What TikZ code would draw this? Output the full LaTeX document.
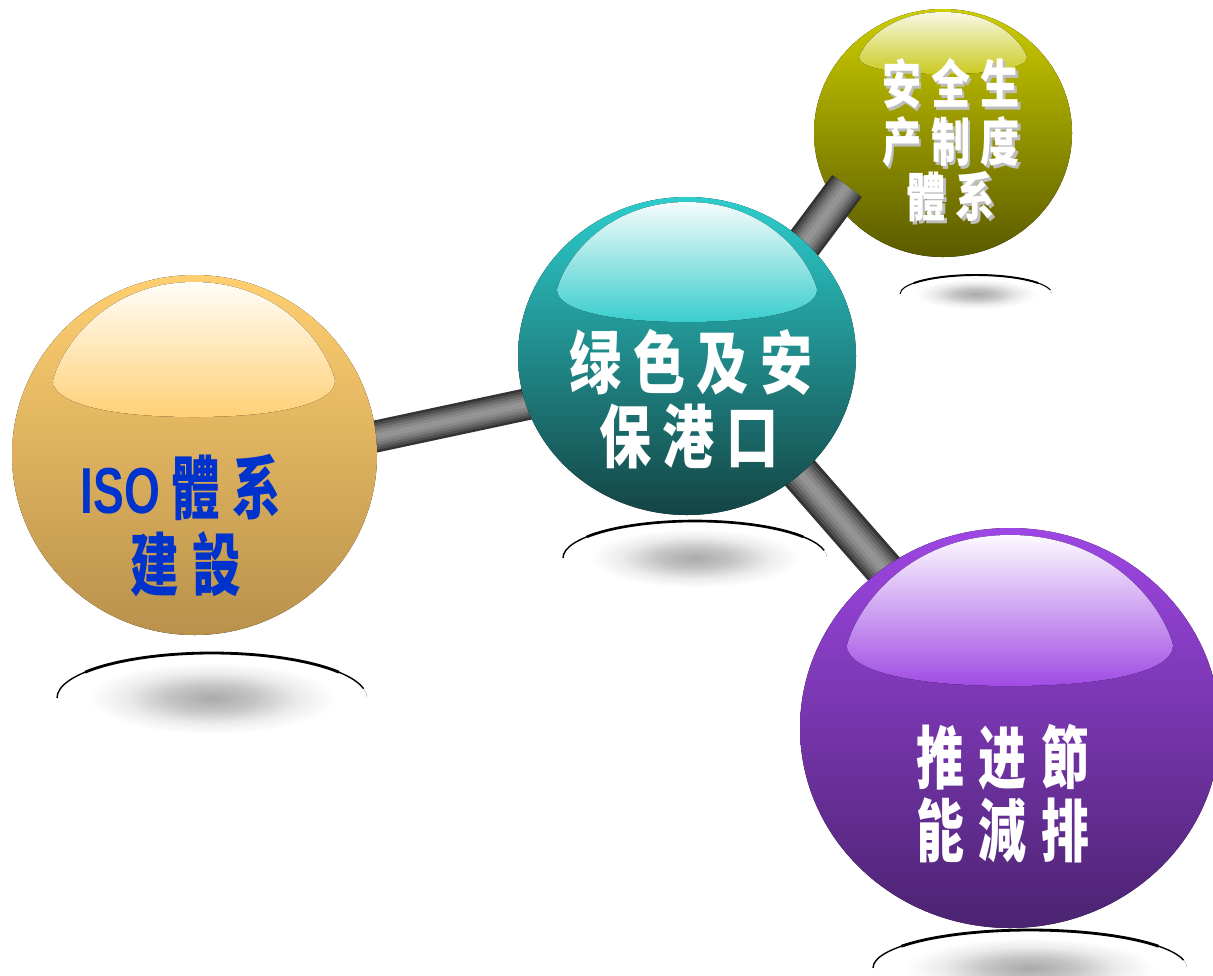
\documentclass[tikz,border=0pt]{standalone}
\usepackage{fontspec}
\newfontfamily\cjk{Noto Sans CJK SC}
\newfontfamily\lat{Liberation Sans}
\definecolor{orTop}{RGB}{255,207,112}
\definecolor{orBot}{RGB}{185,145,75}
\definecolor{orHiT}{RGB}{255,253,248}
\definecolor{orHiB}{RGB}{255,208,118}
\definecolor{teTop}{RGB}{45,205,205}
\definecolor{teBot}{RGB}{20,68,68}
\definecolor{teHiT}{RGB}{245,252,252}
\definecolor{teHiB}{RGB}{58,205,205}
\definecolor{olTop}{RGB}{205,205,0}
\definecolor{olBot}{RGB}{90,90,0}
\definecolor{olHiT}{RGB}{248,248,230}
\definecolor{olHiB}{RGB}{202,202,30}
\definecolor{puTop}{RGB}{158,70,228}
\definecolor{puBot}{RGB}{75,35,112}
\definecolor{puHiT}{RGB}{252,250,255}
\definecolor{puHiB}{RGB}{160,75,228}
\definecolor{isoBlue}{RGB}{0,51,204}
\definecolor{shA}{RGB}{170,170,170}
\definecolor{shB}{RGB}{196,196,196}
\definecolor{shC}{RGB}{236,236,236}
\definecolor{barA}{RGB}{52,52,52}
\definecolor{barB}{RGB}{78,78,78}
\definecolor{barC}{RGB}{100,100,100}
\definecolor{barD}{RGB}{120,120,120}
\definecolor{barE}{RGB}{136,136,136}
\definecolor{barF}{RGB}{148,148,148}
\definecolor{txtShadow}{RGB}{190,190,190}
\pgfdeclareradialshading{shfade}{\pgfpoint{0bp}{0bp}}{color(0bp)=(shA); color(7bp)=(shB); color(14bp)=(shC); color(20bp)=(white); color(50bp)=(white)}
\newcommand\conn[3]{%
  \draw[line width=#3*0.5691pt, draw=barA] (#1) -- (#2);
  \draw[line width=#3*0.84*0.5691pt, draw=barB] (#1) -- (#2);
  \draw[line width=#3*0.68*0.5691pt, draw=barC] (#1) -- (#2);
  \draw[line width=#3*0.52*0.5691pt, draw=barD] (#1) -- (#2);
  \draw[line width=#3*0.36*0.5691pt, draw=barE] (#1) -- (#2);
  \draw[line width=#3*0.18*0.5691pt, draw=barF] (#1) -- (#2);
}
\newcommand\floorshadow[6]{%
  \fill[shading=shfade] (#1) ellipse [x radius=#2, y radius=#3];
  \draw[white, line width=1.6pt] (#1) ++(0:#2 and #3) arc[start angle=0, end angle=180, x radius=#2, y radius=#3];
  \draw[line width=#4pt] (#1) ++(180:#2 and #3) arc[start angle=180, end angle=348, x radius=#2, y radius=#3];
  \draw[line width=#5pt] (#1) ++(#6:#2 and #3) arc[start angle=#6, end angle=540-#6, x radius=#2, y radius=#3];
}
\newcommand\ballbody[5]{%
  \fill[top color=#4, bottom color=#5] (#1) ellipse [x radius=#2, y radius=#3];
}
\newcommand\gloss[6]{%
  \begin{scope}[shift={(#1,#2)}, xscale=#3, yscale=#4]
    \fill[top color=#5, bottom color=#6] (-1,0.73) .. controls (-0.93,0.45) and (-0.6,0) .. (0,0)
      .. controls (0.6,0) and (0.93,0.45) .. (1,0.73)
      .. controls (1,0.9) and (0.6,1) .. (0,1)
      .. controls (-0.6,1) and (-1,0.9) .. (-1,0.73) -- cycle;
  \end{scope}
}
\tikzset{
  bigtxt/.style={font=\cjk\bfseries\fontsize{39}{40}\selectfont, inner sep=0pt, anchor=center},
  smalltxt/.style={font=\cjk\bfseries\fontsize{29.7}{30}\selectfont, inner sep=0pt, anchor=center}
}
\begin{document}
\begin{tikzpicture}[x=0.02cm, y=-0.02cm]
\useasboundingbox (0,0) rectangle (1213,975);
% centres
\coordinate (cOr) at (194.5,455);
\coordinate (cTe) at (687,356);
\coordinate (cOl) at (943,133);
\coordinate (cPu) at (1010,728);
% floor shadows
\coordinate (sOr) at (212,698);
\coordinate (sTe) at (695,558);
\coordinate (sOl) at (976,294);
\coordinate (sPu) at (1030,968);
\floorshadow{sOr}{155}{45}{0.8}{1.6}{215}
\floorshadow{sTe}{132}{37}{0.8}{1.5}{215}
\floorshadow{sOl}{76}{19}{0.6}{1.1}{215}
\floorshadow{sPu}{157}{38}{0.8}{1.6}{215}
% olive ball (behind its bar)
\ballbody{cOl}{129}{124}{olTop}{olBot}
\gloss{943}{12}{84}{62}{olHiT}{olHiB}
% bar ends
\coordinate (b1s) at (200,474);
\coordinate (b1e) at (687,370);
\coordinate (b2s) at (720,356);
\coordinate (b2e) at (847,186);
\coordinate (b3s) at (708,368);
\coordinate (b3e) at (932,624);
\conn{b1s}{b1e}{32}
\conn{b2s}{b2e}{37}
\conn{b3s}{b3e}{39}
% orange ball
\ballbody{cOr}{182.5}{180}{orTop}{orBot}
\gloss{194}{282}{141}{135}{orHiT}{orHiB}
% teal ball
\ballbody{cTe}{169}{159}{teTop}{teBot}
\gloss{687}{202}{130}{120}{teHiT}{teHiB}
% purple ball
\ballbody{cPu}{210}{200}{puTop}{puBot}
\gloss{1010}{535}{163}{151}{puHiT}{puHiB}
% texts
\node[bigtxt, text=isoBlue] (or1) at (181,487) {\scalebox{0.71}[1]{{\lat\fontsize{37}{38}\selectfont ISO}\hspace{9pt}體\hspace{10.4pt}系}};
\node[bigtxt, text=isoBlue] (or2) at (186,564) {\scalebox{0.71}[1]{建\hspace{10.4pt}設}};
\node[bigtxt, text=white] (te1) at (691,362) {\scalebox{0.76}[1]{绿\hspace{8.5pt}色\hspace{8.5pt}及\hspace{8.5pt}安}};
\node[bigtxt, text=white] (te2) at (689,436) {\scalebox{0.76}[1]{保\hspace{8.5pt}港\hspace{8.5pt}口}};
\node[bigtxt, text=white] (pu1) at (1003,757) {\scalebox{0.70}[1]{推\hspace{12.2pt}进\hspace{12.2pt}節}};
\node[bigtxt, text=white] (pu2) at (1003,830) {\scalebox{0.70}[1]{能\hspace{12.2pt}減\hspace{12.2pt}排}};
\node[smalltxt, text=txtShadow] (ol1s) at (953.5,86.5) {\scalebox{0.75}[1]{安\hspace{7.6pt}全\hspace{7.6pt}生}};
\node[smalltxt, text=txtShadow] (ol2s) at (953.5,144.5) {\scalebox{0.75}[1]{产\hspace{7.6pt}制\hspace{7.6pt}度}};
\node[smalltxt, text=txtShadow] (ol3s) at (953.5,199.5) {\scalebox{0.75}[1]{體\hspace{7.6pt}系}};
\node[smalltxt, text=white] (ol1) at (951,84) {\scalebox{0.75}[1]{安\hspace{7.6pt}全\hspace{7.6pt}生}};
\node[smalltxt, text=white] (ol2) at (951,142) {\scalebox{0.75}[1]{产\hspace{7.6pt}制\hspace{7.6pt}度}};
\node[smalltxt, text=white] (ol3) at (951,197) {\scalebox{0.75}[1]{體\hspace{7.6pt}系}};
\end{tikzpicture}
\end{document}
